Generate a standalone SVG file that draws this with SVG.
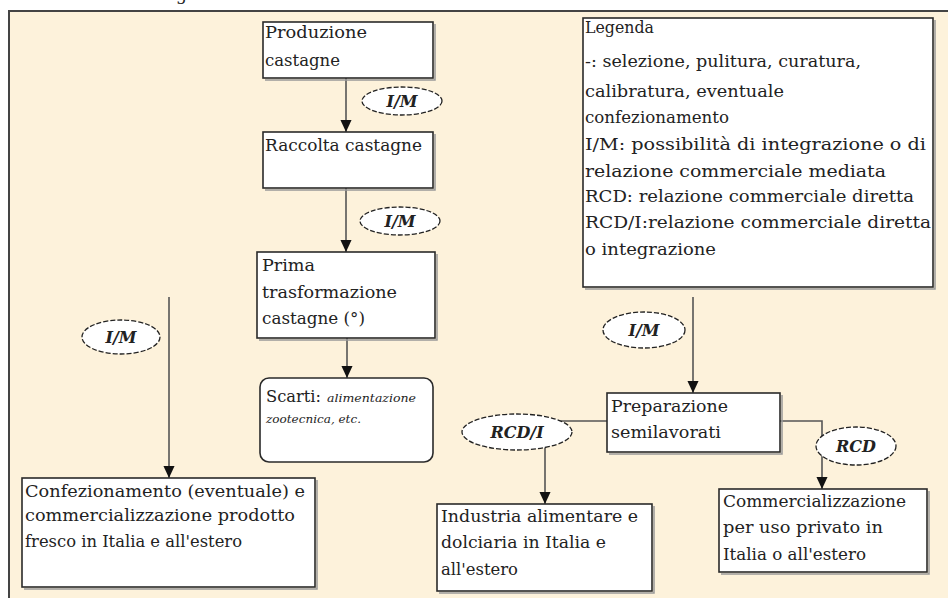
<svg xmlns="http://www.w3.org/2000/svg" width="948" height="598" viewBox="0 0 948 598">
<style>
.t{font-family:"DejaVu Serif","Liberation Serif",serif;font-size:17px;fill:#222}
.lab{font-family:"DejaVu Serif","Liberation Serif",serif;font-size:16px;font-style:italic;font-weight:bold;fill:#222;text-anchor:middle}
.sm{font-size:11px;font-style:italic}
.box{fill:#fff;stroke:#2a2a2a;stroke-width:1.6}
.sh{fill:none;stroke:#999;stroke-width:1.5}
.ell{fill:#fff;stroke:#222;stroke-width:1.3;stroke-dasharray:5 2}
.con{fill:none;stroke:#555;stroke-width:1.6}
</style>
<defs>
<marker id="ah" markerUnits="userSpaceOnUse" markerWidth="12" markerHeight="14" refX="13" refY="6" orient="auto" viewBox="0 0 13 12">
<path d="M0,0 L13,6 L0,12 z" fill="#111"/>
</marker>
</defs>
<rect width="948" height="598" fill="#fff"/>
<text class="t" x="176" y="0">g</text>
<rect x="9" y="11" width="960" height="600" fill="#fdf2db" stroke="#444" stroke-width="2"/>

<g id="connectors">
<path class="con" d="M346,78 V132" marker-end="url(#ah)"/>
<path class="con" d="M346,188 V252" marker-end="url(#ah)"/>
<path class="con" d="M347,338 V378" marker-end="url(#ah)"/>
<path class="con" d="M169,297 V478" marker-end="url(#ah)"/>
<path class="con" d="M693,297 V393" marker-end="url(#ah)"/>
<path class="con" d="M607,421 H545 V504" marker-end="url(#ah)"/>
<path class="con" d="M780,421 H822 V489" marker-end="url(#ah)"/>
</g>

<g id="lab1"><ellipse class="ell" cx="402" cy="101" rx="40" ry="14"/><text class="lab" x="402" y="107">I/M</text></g>
<g id="lab2"><ellipse class="ell" cx="400" cy="221" rx="40" ry="14"/><text class="lab" x="400" y="227">I/M</text></g>
<g id="lab3"><ellipse class="ell" cx="121" cy="337" rx="39" ry="17"/><text class="lab" x="121" y="343">I/M</text></g>
<g id="lab4"><ellipse class="ell" cx="644" cy="330" rx="41" ry="18"/><text class="lab" x="644" y="336">I/M</text></g>
<g id="lab5"><ellipse class="ell" cx="517" cy="432" rx="55" ry="18"/><text class="lab" x="517" y="438">RCD/I</text></g>
<g id="lab6"><ellipse class="ell" cx="856" cy="446" rx="40" ry="19"/><text class="lab" x="856" y="452">RCD</text></g>

<g id="produzione"><path class="sh" d="M435,24 V80 H265"/><rect class="box" x="263" y="22" width="170" height="56"/>
<text class="t" x="265" y="38" textLength="102" lengthAdjust="spacingAndGlyphs">Produzione</text><text class="t" x="265" y="66" textLength="75" lengthAdjust="spacingAndGlyphs">castagne</text></g>

<g id="raccolta"><path class="sh" d="M435,134 V190 H265"/><rect class="box" x="263" y="132" width="170" height="56"/>
<text class="t" x="265" y="151" textLength="157" lengthAdjust="spacingAndGlyphs">Raccolta castagne</text></g>

<g id="prima"><path class="sh" d="M437,254 V340 H259"/><rect class="box" x="257" y="252" width="178" height="86"/>
<text class="t" x="262" y="271" textLength="53" lengthAdjust="spacingAndGlyphs">Prima</text><text class="t" x="262" y="298" textLength="135" lengthAdjust="spacingAndGlyphs">trasformazione</text><text class="t" x="262" y="324" textLength="103" lengthAdjust="spacingAndGlyphs">castagne (°)</text></g>

<g id="scarti"><rect class="box" x="260" y="378" width="173" height="84" rx="9"/>
<text class="t" x="266" y="402" textLength="55" lengthAdjust="spacingAndGlyphs">Scarti:</text><text class="t sm" x="327" y="402" textLength="89" lengthAdjust="spacingAndGlyphs">alimentazione</text><text class="t sm" x="266" y="423" textLength="95" lengthAdjust="spacingAndGlyphs">zootecnica, etc.</text></g>

<g id="legenda"><path class="sh" d="M935,20 V289 H585"/><rect class="box" x="583" y="18" width="350" height="269"/>
<text class="t" x="585" y="33" textLength="69" lengthAdjust="spacingAndGlyphs">Legenda</text>
<text class="t" x="585" y="67" textLength="276" lengthAdjust="spacingAndGlyphs">-: selezione, pulitura, curatura,</text>
<text class="t" x="585" y="97" textLength="199" lengthAdjust="spacingAndGlyphs">calibratura, eventuale</text>
<text class="t" x="585" y="123" textLength="144" lengthAdjust="spacingAndGlyphs">confezionamento</text>
<text class="t" x="585" y="150" textLength="341" lengthAdjust="spacingAndGlyphs">I/M: possibilità di integrazione o di</text>
<text class="t" x="585" y="177" textLength="301" lengthAdjust="spacingAndGlyphs">relazione commerciale mediata</text>
<text class="t" x="585" y="202" textLength="329" lengthAdjust="spacingAndGlyphs">RCD: relazione commerciale diretta</text>
<text class="t" x="585" y="228" textLength="346" lengthAdjust="spacingAndGlyphs">RCD/I:relazione commerciale diretta</text>
<text class="t" x="585" y="255" textLength="131" lengthAdjust="spacingAndGlyphs">o integrazione</text></g>

<g id="confezionamento"><path class="sh" d="M317,480 V589 H24"/><rect class="box" x="22" y="478" width="293" height="109"/>
<text class="t" x="25" y="497" textLength="280" lengthAdjust="spacingAndGlyphs">Confezionamento (eventuale) e</text>
<text class="t" x="25" y="521" textLength="270" lengthAdjust="spacingAndGlyphs">commercializzazione prodotto</text>
<text class="t" x="25" y="547" textLength="217" lengthAdjust="spacingAndGlyphs">fresco in Italia e all'estero</text></g>

<g id="preparazione"><path class="sh" d="M782,395 V454 H609"/><rect class="box" x="607" y="393" width="173" height="59"/>
<text class="t" x="611" y="412" textLength="117" lengthAdjust="spacingAndGlyphs">Preparazione</text><text class="t" x="611" y="438" textLength="110" lengthAdjust="spacingAndGlyphs">semilavorati</text></g>

<g id="industria"><path class="sh" d="M654,506 V593 H439"/><rect class="box" x="437" y="504" width="215" height="87"/>
<text class="t" x="441" y="522" textLength="197" lengthAdjust="spacingAndGlyphs">Industria alimentare e</text>
<text class="t" x="441" y="548" textLength="165" lengthAdjust="spacingAndGlyphs">dolciaria in Italia e</text>
<text class="t" x="441" y="575" textLength="77" lengthAdjust="spacingAndGlyphs">all'estero</text></g>

<g id="commercializzazione"><path class="sh" d="M929,491 V574 H721"/><rect class="box" x="719" y="489" width="208" height="83"/>
<text class="t" x="723" y="507" textLength="183" lengthAdjust="spacingAndGlyphs">Commercializzazione</text>
<text class="t" x="723" y="533" textLength="160" lengthAdjust="spacingAndGlyphs">per uso privato in</text>
<text class="t" x="723" y="560" textLength="143" lengthAdjust="spacingAndGlyphs">Italia o all'estero</text></g>
</svg>
